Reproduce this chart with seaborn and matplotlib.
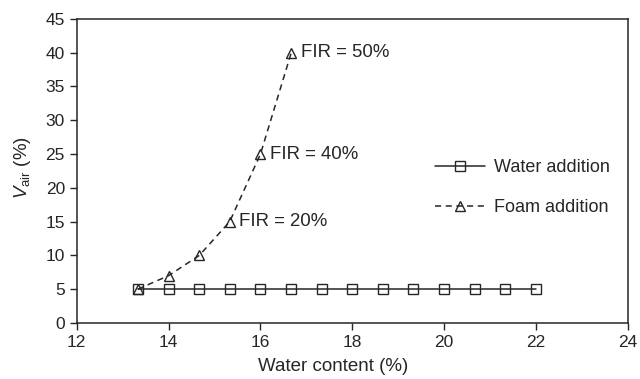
import numpy as np
import pandas as pd
import matplotlib
matplotlib.use("Agg")
import matplotlib.pyplot as plt
import seaborn as sns

# Water addition series
water_x = [13.33, 14.0, 14.67, 15.33, 16.0, 16.67, 17.33, 18.0, 18.67, 19.33, 20.0, 20.67, 21.33, 22.0]
water_y = [5, 5, 5, 5, 5, 5, 5, 5, 5, 5, 5, 5, 5, 5]

# Foam addition series
foam_x = [13.33, 14.0, 14.67, 15.33, 16.0, 16.67]
foam_y = [5, 7, 10, 15, 25, 40]

# FIR labels (index into foam series)
fir_labels = {3: "FIR = 20%", 4: "FIR = 40%", 5: "FIR = 50%"}

sns.set_style("ticks")
plt.rcParams['font.family'] = ['Liberation Sans', 'DejaVu Sans']
plt.rcParams['mathtext.fontset'] = 'custom'
plt.rcParams['mathtext.rm'] = 'Liberation Sans'
plt.rcParams['mathtext.it'] = 'Liberation Sans:italic'

FS = 12.5
INK = "#262626"

fig = plt.figure(figsize=(6.4, 3.79), dpi=100)
ax = fig.add_axes([0.120, 0.148, 0.861, 0.802])

water = pd.DataFrame({"x": water_x, "y": water_y})
foam = pd.DataFrame({"x": foam_x, "y": foam_y})

sns.lineplot(data=water, x="x", y="y", ax=ax, color=INK, linewidth=1.1,
             marker="s", markersize=7.5, markerfacecolor="none",
             markeredgecolor=INK, markeredgewidth=1.0, label="Water addition")
sns.lineplot(data=foam, x="x", y="y", ax=ax, color=INK, linewidth=1.1,
             linestyle=(0, (4, 3)), marker="^", markersize=7,
             markerfacecolor="none", markeredgecolor=INK,
             markeredgewidth=1.0, label="Foam addition")

for idx, txt in fir_labels.items():
    ax.annotate(txt, (foam_x[idx], foam_y[idx]), xytext=(7, 0),
                textcoords="offset points", va="center", ha="left",
                fontsize=13.4, color=INK)

ax.set_xlim(12, 24)
ax.set_ylim(0, 45)
ax.set_xticks(np.arange(12, 25, 2))
ax.set_yticks(np.arange(0, 46, 5))
ax.tick_params(labelsize=FS, colors=INK, length=5, width=1)
for sp in ax.spines.values():
    sp.set_visible(True)
    sp.set_color(INK)
    sp.set_linewidth(1.1)

ax.set_xlabel("Water content (%)", fontsize=13.5, color=INK, labelpad=3)
ax.xaxis.set_label_coords(0.465, -0.115)
ax.set_ylabel(r"$V_{\mathrm{air}}$ (%)", fontsize=13.5, color=INK)
ax.yaxis.set_label_coords(-0.080, 0.51)

ax.legend(loc="center left", bbox_to_anchor=(0.62, 0.445), frameon=False,
          fontsize=13, handlelength=2.8, handletextpad=0.5, labelspacing=1.3)

fig.savefig("out.png", dpi=100)
